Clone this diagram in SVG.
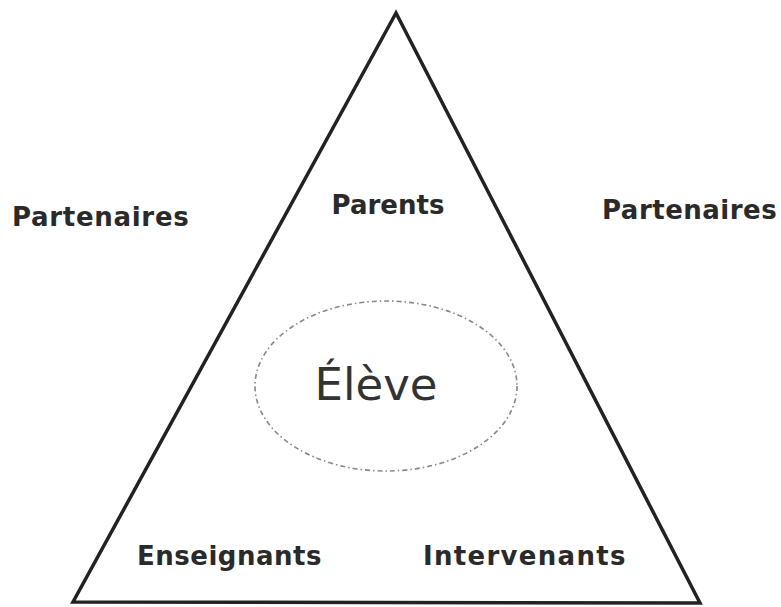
<svg xmlns="http://www.w3.org/2000/svg" width="781" height="607" viewBox="0 0 781 607">
<style>
.lbl{font-family:"DejaVu Sans",Verdana,sans-serif;font-weight:bold;font-size:26px;fill:#2a2a2a}
.main{font-family:"DejaVu Sans",Verdana,sans-serif;font-size:45px;fill:#333}
</style>
<rect width="781" height="607" fill="#fff"/>
<g id="connectors">
<polygon id="triangle" points="396,13 73,602 700,603" fill="none" stroke="#222" stroke-width="3.5" stroke-linejoin="miter"/>
</g>
<g id="eleve">
<ellipse cx="386" cy="386" rx="131" ry="85" fill="none" stroke="#888" stroke-width="1.6" stroke-dasharray="5,3,1.5,3"/>
<text class="main" x="376" y="400" text-anchor="middle">Élève</text>
</g>
<g id="parents"><text class="lbl" x="388" y="214" text-anchor="middle">Parents</text></g>
<g id="partenaires-left"><text class="lbl" x="12" y="226" letter-spacing="0.7">Partenaires</text></g>
<g id="partenaires-right"><text class="lbl" x="602" y="219" letter-spacing="0.5">Partenaires</text></g>
<g id="enseignants"><text class="lbl" x="137" y="565" letter-spacing="0.5">Enseignants</text></g>
<g id="intervenants"><text class="lbl" x="423" y="565" letter-spacing="1.3">Intervenants</text></g>
</svg>
